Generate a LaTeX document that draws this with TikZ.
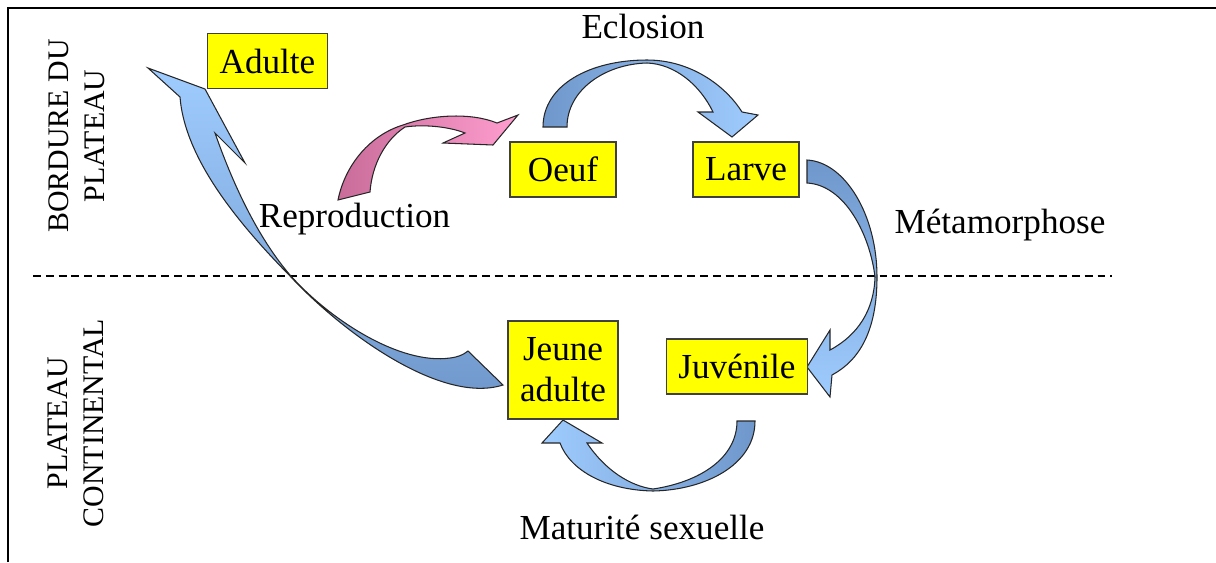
\documentclass[tikz,border=0pt]{standalone}
\usepackage{fontspec}
\setmainfont{Liberation Serif}
\usetikzlibrary{calc}

\definecolor{boxyellow}{HTML}{FFFF00}
\definecolor{steeldark}{HTML}{6F97CB}
\definecolor{skylight}{HTML}{9FCCFF}
\definecolor{pinkdark}{HTML}{C96C9A}
\definecolor{pinklight}{HTML}{FF9ECF}

\begin{document}
\begin{tikzpicture}[x=0.02cm, y=-0.02cm,
    stage/.style={draw=black!75, line width=0.75pt, fill=boxyellow, inner xsep=0.24cm,
        minimum height=1.1cm, align=center, font=\fontsize{20}{23.5}\selectfont},
    phase/.style={anchor=base, font=\fontsize{20}{24}\selectfont},
    zone/.style={rotate=90, align=center, font=\fontsize{17}{20.5}\selectfont},
    band/.style={draw=black!85, line width=0.6pt}]

        \useasboundingbox (0,0) rectangle (1216,562);

        % FRAME
        \draw[line width=1.1pt] (8,562) -- (8,8) -- (1216,8);

        % ZONES
        \node[zone] (bord) at (77,136) {BORDURE DU\\PLATEAU};
        \node[zone] (cont) at (76,423) {PLATEAU\\CONTINENTAL};
        \draw[line width=1.1pt, dash pattern=on 4.5pt off 2.8pt] (33,276) -- (1112,276);

        % ECLOSION
        \shadedraw[band, left color=steeldark, right color=skylight]
            (543,127) .. controls (543,85) and (590,60) .. (647,60)
            .. controls (690,60) and (725,85) .. (742,112)
            -- (758,115) -- (732,137) -- (698,112) -- (713,112)
            .. controls (700,85) and (675,64) .. (647,63)
            .. controls (605,64) and (567,90) .. (567,127) -- cycle;

        % METAMORPHOSE
        \shadedraw[band, top color=steeldark, bottom color=skylight]
            (807,160) .. controls (845,162) and (877,215) .. (877,277)
            .. controls (877,330) and (860,360) .. (832,375)
            -- (830,397) -- (807,367) -- (830,330) -- (830,350)
            .. controls (858,335) and (874,310) .. (875,277)
            .. controls (870,235) and (845,185) .. (807,183) -- cycle;

        % MATURITE
        \shadedraw[band, left color=skylight, right color=steeldark]
            (755,421) .. controls (755,465) and (705,490) .. (653,491)
            .. controls (605,490) and (570,470) .. (560,443)
            -- (542,443) -- (563,420) -- (602,443) -- (587,443)
            .. controls (605,470) and (630,486) .. (653,489)
            .. controls (700,482) and (737,458) .. (737,421) -- cycle;

        % RETOUR VERS ADULTE
        \shadedraw[band, top color=skylight, bottom color=steeldark]
            (148,68) -- (205,89) -- (245,163) -- (215,133)
            .. controls (235,190) and (260,240) .. (290,275)
            .. controls (330,320) and (400,365) .. (450,358)
            .. controls (458,357) and (463,355) .. (468,351)
            -- (503,385)
            .. controls (440,405) and (340,330) .. (290,276)
            .. controls (240,225) and (185,160) .. (180,97) -- cycle;

        % REPRODUCTION
        \shadedraw[band, left color=pinkdark, right color=pinklight]
            (338,200) .. controls (345,165) and (370,135) .. (403,125)
            .. controls (430,115) and (470,112) .. (497,123)
            -- (518,115) -- (493,145) -- (443,143) -- (465,133)
            .. controls (450,127) and (425,124) .. (405,127)
            .. controls (385,140) and (372,165) .. (370,192) -- cycle;

        % STAGES
        \node[stage] (ADULTE) at (267.5,61) {Adulte};
        \node[stage, minimum width=2.12cm] (OEUF) at (563,169.5) {Oeuf};
        \node[stage] (LARVE) at (746,169.5) {Larve};
        \node[stage] (JUV) at (737,366.5) {Juvénile};
        \node[stage, minimum height=1.96cm] (JEUNE) at (563,370) {Jeune\\adulte};

        % LABELS
        \node[phase] (ecl) at (643,38) {Eclosion};
        \node[phase] (repro) at (354.5,227) {Reproduction};
        \node[phase] (meta) at (1000,233) {Métamorphose};
        \node[phase] (matu) at (642,539) {Maturité sexuelle};

    \end{tikzpicture}
\end{document}
